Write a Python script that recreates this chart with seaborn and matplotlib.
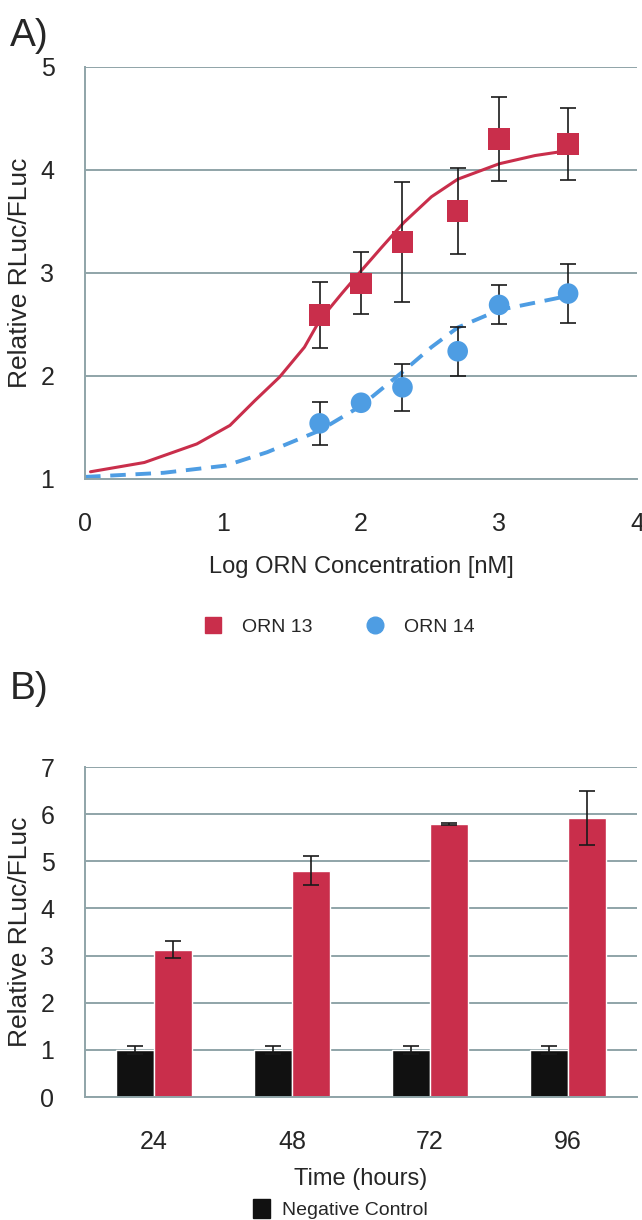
import matplotlib
matplotlib.use("Agg")
import matplotlib.pyplot as plt
from matplotlib.lines import Line2D
from matplotlib.patches import Patch
import numpy as np
import pandas as pd
import seaborn as sns

# panel A: dose response
log_conc = [1.7, 2.0, 2.3, 2.7, 3.0, 3.5]
orn13 = [2.59, 2.90, 3.30, 3.60, 4.30, 4.25]
orn13_err = [0.32, 0.30, 0.58, 0.42, 0.41, 0.35]
orn14 = [1.54, 1.74, 1.89, 2.24, 2.69, 2.80]
orn14_err = [0.21, 0.0, 0.23, 0.24, 0.19, 0.29]

# fitted curves
fit13_x = [0.04, 0.43, 0.81, 1.05, 1.23, 1.41, 1.59, 1.70, 1.86, 2.00, 2.15,
           2.31, 2.51, 2.70, 3.00, 3.26, 3.51]
fit13_y = [1.07, 1.16, 1.34, 1.52, 1.76, 1.99, 2.28, 2.54, 2.80, 3.02, 3.25,
           3.49, 3.74, 3.91, 4.06, 4.14, 4.19]
fit14_x = [0.0, 0.57, 1.02, 1.32, 1.70, 2.00, 2.31, 2.51, 2.70, 3.00, 3.51]
fit14_y = [1.02, 1.06, 1.13, 1.26, 1.47, 1.71, 2.05, 2.28, 2.47, 2.64, 2.78]

# panel B: time course
hours = ["24", "48", "72", "96"]
neg_ctrl = [1.0, 1.0, 1.0, 1.0]
neg_ctrl_err = [0.08, 0.08, 0.08, 0.08]
orn_time = [3.12, 4.80, 5.80, 5.92]
orn_time_err = [0.18, 0.31, 0.02, 0.58]

RED = "#C92E4B"
BLUE = "#4E9DE3"
GRID = "#8FA4A8"

sns.set_theme(style="white")
plt.rcParams["font.family"] = ["Liberation Sans", "DejaVu Sans"]

fig = plt.figure(figsize=(6.42, 12.2), dpi=100)
axA = fig.add_axes([0.1324, 0.6074, 0.86, 0.3377])
axB = fig.add_axes([0.1324, 0.1008, 0.86, 0.2705])


def style_axis(ax):
    ax.grid(axis="y", color=GRID, lw=1.4)
    ax.set_axisbelow(True)
    for s in ["top", "right"]:
        ax.spines[s].set_visible(False)
    for s in ["left", "bottom"]:
        ax.spines[s].set_color(GRID)
        ax.spines[s].set_linewidth(1.4)
    ax.tick_params(axis="both", which="both", direction="out", color=GRID,
                   width=1.4, labelsize=18, pad=10)
    ax.tick_params(axis="y", length=8, pad=14)


# ---- A ----
sns.lineplot(x=fit13_x, y=fit13_y, ax=axA, color=RED, lw=2.2, sort=False)
sns.lineplot(x=fit14_x, y=fit14_y, ax=axA, color=BLUE, lw=2.8, sort=False,
             dashes=False, linestyle=(0, (4, 2.5)))
axA.errorbar(log_conc, orn13, yerr=orn13_err, fmt="none", ecolor="#1a1a1a",
             elinewidth=1.2, capsize=6, capthick=1.2, zorder=3)
axA.errorbar(log_conc, orn14, yerr=orn14_err, fmt="none", ecolor="#1a1a1a",
             elinewidth=1.2, capsize=6, capthick=1.2, zorder=3)
sns.scatterplot(x=log_conc, y=orn13, ax=axA, marker="s", s=240, color=RED,
                edgecolor="none", zorder=4)
sns.scatterplot(x=log_conc, y=orn14, ax=axA, marker="o", s=220, color=BLUE,
                edgecolor="none", zorder=4)
axA.set_xlim(0, 4)
axA.set_ylim(1, 5)
axA.set_yticks([1, 2, 3, 4, 5])
axA.set_xticks([0, 1, 2, 3, 4])
style_axis(axA)
axA.tick_params(axis="x", length=8, pad=16)
axA.set_xlabel("Log ORN Concentration [nM]", fontsize=17, labelpad=14)
axA.set_ylabel("Relative RLuc/FLuc", fontsize=19)
axA.yaxis.set_label_coords(-0.096, 0.5)

handlesA = [Line2D([], [], marker="s", ls="none", color=RED, markersize=12),
            Line2D([], [], marker="o", ls="none", color=BLUE, markersize=12)]
fig.legend(handlesA, ["ORN 13", "ORN 14"], loc="center",
           bbox_to_anchor=(0.52, 0.486), ncol=2, frameon=False, fontsize=14,
           handletextpad=0.5, columnspacing=2.2)

# ---- B ----
dfB = pd.DataFrame({
    "hours": hours * 2,
    "value": neg_ctrl + orn_time,
    "err": neg_ctrl_err + orn_time_err,
    "group": ["Negative Control"] * 4 + ["ORN"] * 4,
})
sns.barplot(data=dfB, x="hours", y="value", hue="group", ax=axB,
            palette=["#111111", RED], width=0.55, gap=0, saturation=1,
            errorbar=None, legend=False)
for bars, errs in zip(axB.containers, [neg_ctrl_err, orn_time_err]):
    xs = [b.get_x() + b.get_width() / 2 for b in bars]
    ys = [b.get_height() for b in bars]
    axB.errorbar(xs, ys, yerr=errs, fmt="none", ecolor="#1a1a1a",
                 elinewidth=1.2, capsize=6, capthick=1.2, zorder=3)
axB.set_xlim(-0.5, 3.5)
axB.set_ylim(0, 7)
axB.set_yticks(range(0, 8))
style_axis(axB)
axB.set_xticks(np.arange(-0.5, 4, 1), minor=True)
axB.tick_params(axis="x", which="major", length=0, pad=24)
axB.tick_params(axis="x", which="minor", length=8)
axB.set_xlabel("Time (hours)", fontsize=17, labelpad=10)
axB.set_ylabel("Relative RLuc/FLuc", fontsize=19)
axB.yaxis.set_label_coords(-0.096, 0.5)

fig.legend([Patch(color="#111111")], ["Negative Control"], loc="center",
           bbox_to_anchor=(0.53, 0.009), frameon=False, fontsize=14,
           handlelength=0.9, handleheight=1.1, handletextpad=0.6,
           borderaxespad=0, borderpad=0.1)

fig.text(0.015, 0.985, "A)", fontsize=28, va="top", ha="left")
fig.text(0.015, 0.45, "B)", fontsize=28, va="top", ha="left")

fig.savefig("out.png", dpi=100)
